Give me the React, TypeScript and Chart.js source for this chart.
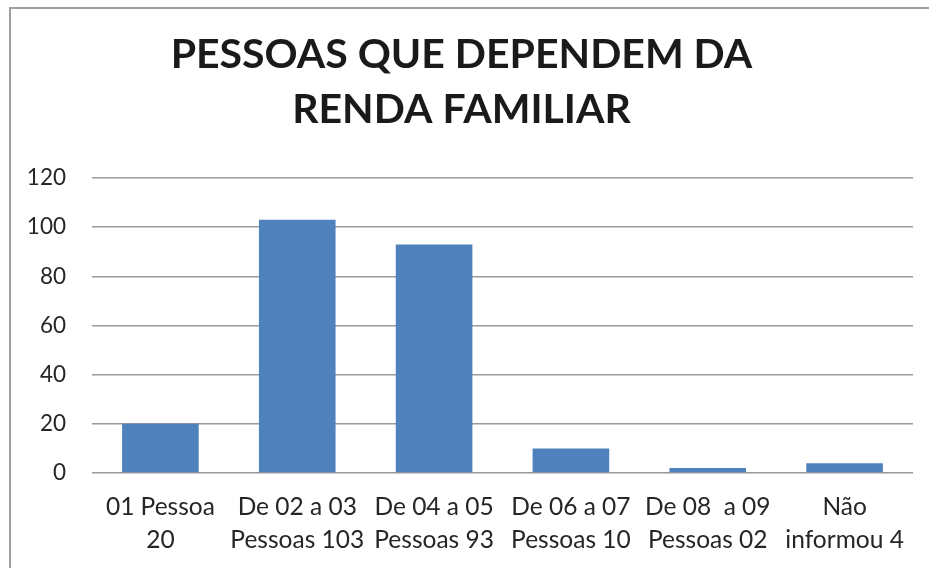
import React, { useEffect, useRef } from "react";
import { Chart, registerables } from "chart.js";

Chart.register(...registerables);

const categories: string[][] = [
  ["01 Pessoa", "20"],
  ["De 02 a 03", "Pessoas 103"],
  ["De 04 a 05", "Pessoas 93"],
  ["De 06 a 07", "Pessoas 10"],
  ["De 08  a 09", "Pessoas 02"],
  ["Não", "informou 4"],
];
const values: number[] = [20, 103, 93, 10, 2, 4];
const titleLines: string[] = ["PESSOAS QUE DEPENDEM DA", "RENDA FAMILIAR"];
const yTicks: number[] = [0, 20, 40, 60, 80, 100, 120];

const FONT = "Lato, 'Noto Sans', sans-serif";

export default function App() {
  const ref = useRef<HTMLCanvasElement | null>(null);

  useEffect(() => {
    if (!ref.current) return;
    const chart = new Chart(ref.current, {
      type: "bar",
      data: {
        labels: categories,
        datasets: [
          {
            data: values,
            backgroundColor: "#4F81BD",
            categoryPercentage: 1,
            barPercentage: 0.56,
          },
        ],
      },
      options: {
        animation: false,
        responsive: false,
        maintainAspectRatio: false,
        layout: { padding: { left: 10, right: 16, top: 0, bottom: 0 } },
        plugins: {
          legend: { display: false },
          tooltip: { enabled: false },
          title: {
            display: true,
            text: titleLines,
            color: "#1a1a1a",
            font: { family: FONT, size: 41, weight: "bold", lineHeight: 55 / 41 },
            padding: { top: 27.5, bottom: 40.5 },
          },
        },
        scales: {
          y: {
            min: 0,
            max: 120,
            afterBuildTicks: (scale: any) => {
              scale.ticks = yTicks.map((v) => ({ value: v }));
            },
            afterFit: (scale: any) => {
              scale.width = 82;
            },
            border: { display: false },
            grid: { color: "#9a9a9a", lineWidth: 1.5, drawTicks: false },
            ticks: {
              color: "#262626",
              font: { family: FONT, size: 22.5 },
              padding: 26,
            },
          },
          x: {
            afterFit: (scale: any) => {
              scale.height = 95;
            },
            border: { display: false },
            grid: { display: false, drawTicks: false },
            ticks: {
              color: "#262626",
              font: { family: FONT, size: 24.5, lineHeight: 33 / 24.5 },
              padding: 18,
              maxRotation: 0,
              autoSkip: false,
            },
          },
        },
      },
    });
    return () => chart.destroy();
  }, []);

  return (
    <div
      style={{
        position: "fixed",
        left: 0,
        top: 0,
        width: 929,
        height: 568,
        background: "#fff",
        overflow: "hidden",
      }}
    >
      <div
        style={{
          position: "absolute",
          left: 9,
          top: 7,
          width: 940,
          height: 600,
          borderLeft: "2px solid #a0a0a0",
          borderTop: "2px solid #a0a0a0",
        }}
      />
      <canvas
        ref={ref}
        width={929}
        height={568}
        style={{ position: "absolute", left: 0, top: 0, width: 929, height: 568 }}
      />
    </div>
  );
}
